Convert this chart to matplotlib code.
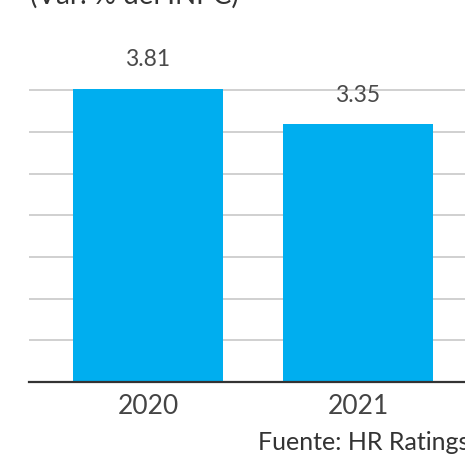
import numpy as np
import matplotlib
matplotlib.use("Agg")
import matplotlib.pyplot as plt

years = ["2020", "2021"]
values = [3.81, 3.35]
value_labels = ["3.81", "3.35"]
title = "(Var. % del INPC)"
source = "Fuente: HR Ratings"

plt.rcParams['font.family'] = ['Lato', 'DejaVu Sans']

fig = plt.figure(figsize=(4.65, 4.54), dpi=100)
W, H = 465, 454
base_y = 382
ax = fig.add_axes([29 / W, 1 - base_y / H, 1 - 29 / W, (base_y - 20) / H])

x = np.arange(len(years))
ax.bar(x, values, width=0.714, color="#00aeef", zorder=2)

px_per_unit = 293 / 3.81
ax.set_ylim(0, (base_y - 20) / px_per_unit)
ax.set_xlim(-119 / 210, (465 - 148) / 210)

grid_step = 41.7 / px_per_unit
ax.set_yticks(np.arange(1, 8) * grid_step)
ax.yaxis.grid(True, color="#c4c4c4", linewidth=1.1, zorder=1)
ax.tick_params(axis="y", left=False, labelleft=False)

ax.set_xticks(x)
ax.set_xticklabels(years, fontsize=19, color="#444444")
ax.tick_params(axis="x", length=0, pad=9)

for s in ["top", "right", "left"]:
    ax.spines[s].set_visible(False)
ax.spines["bottom"].set_color("#333333")
ax.spines["bottom"].set_linewidth(1.6)
ax.spines["bottom"].set_zorder(3)

for xi, v, lab in zip(x, values, value_labels):
    ax.annotate(lab, (xi, v), xytext=(0, 21), textcoords="offset points",
                ha="center", va="center", fontsize=16.5, color="#4a4a4a")

fig.text(30 / W, 1 + 5 / H, title, fontsize=20, color="#333333",
         ha="left", va="center")
fig.text(258 / W, 1 - 442 / H, source, fontsize=18, color="#333333",
         ha="left", va="center")

fig.savefig("out.png", dpi=100)
